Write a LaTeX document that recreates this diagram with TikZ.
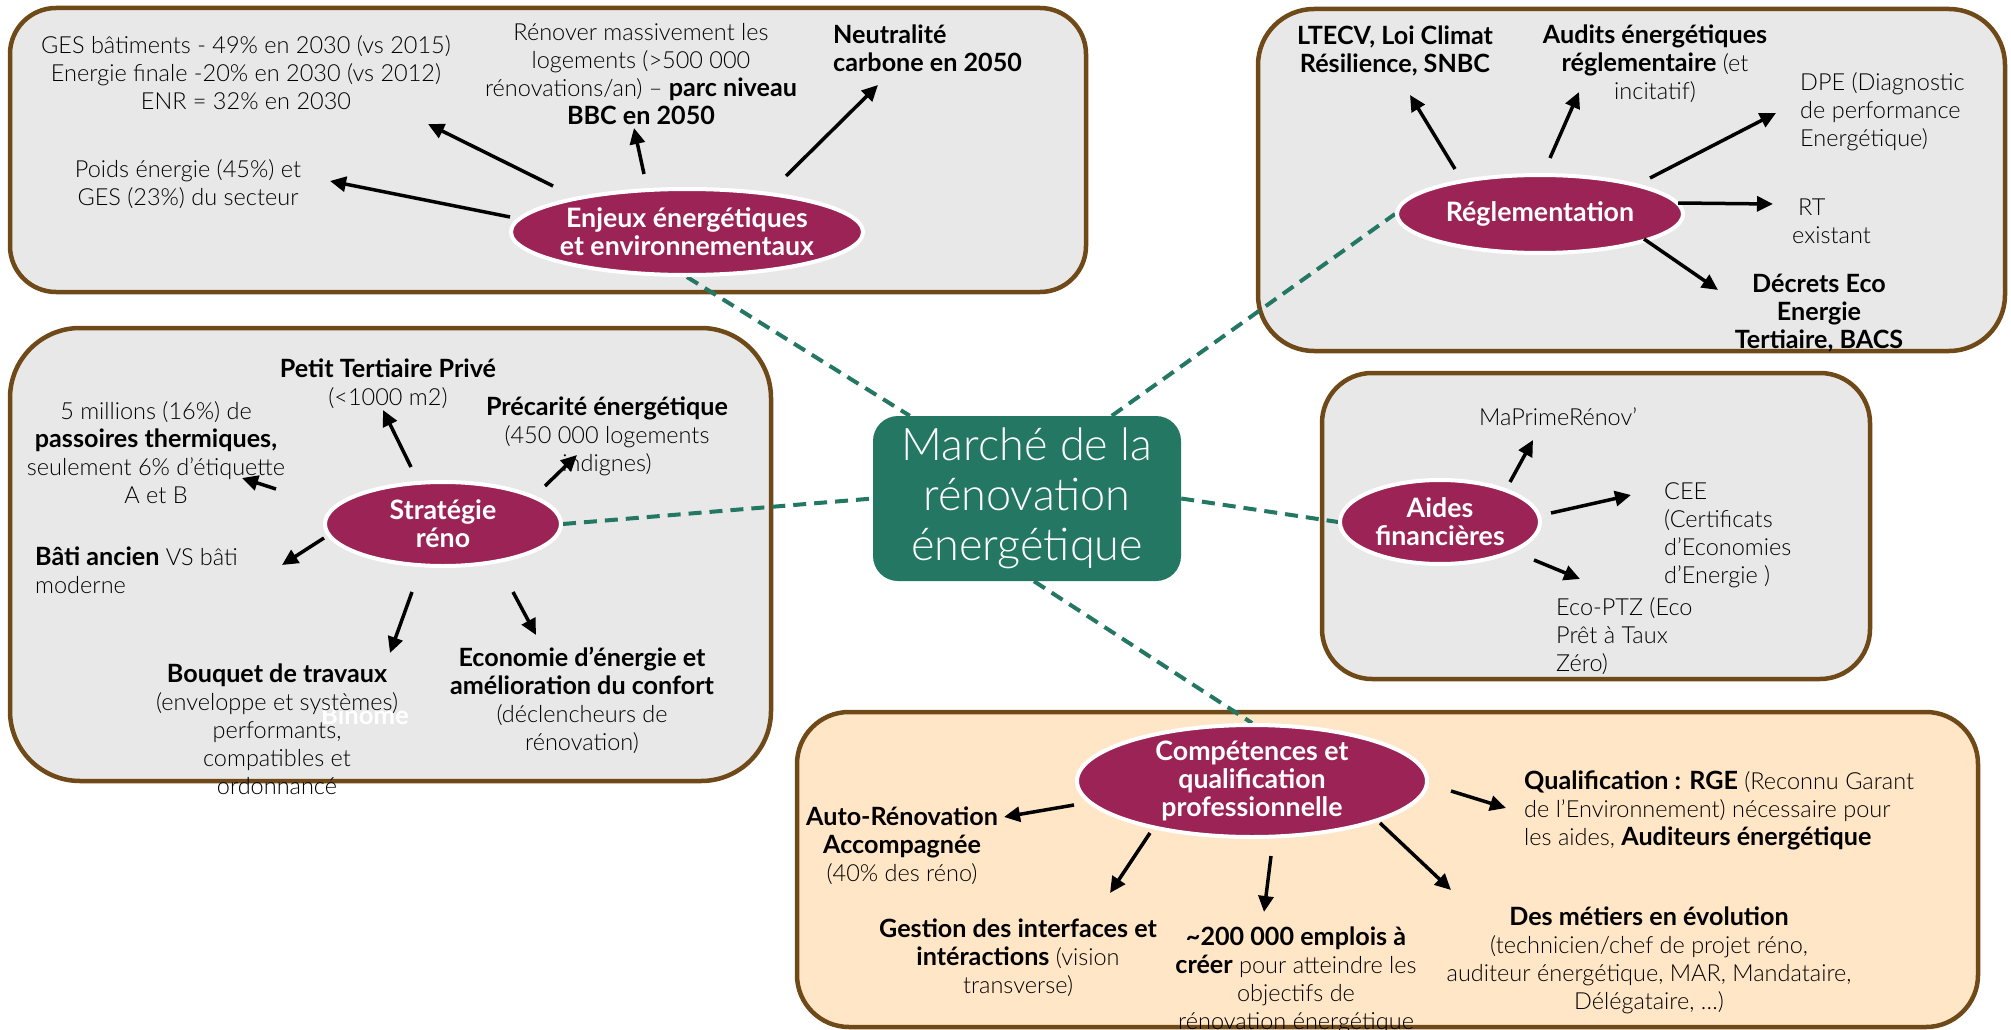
\documentclass[tikz,border=0pt]{standalone}
\usepackage{fontspec}
\setmainfont{Lato}[UprightFont=* Light, BoldFont=* Bold, BoldFeatures={Scale=1.07}]
\usetikzlibrary{arrows.meta,shapes.geometric}
\definecolor{myteal}{RGB}{35,119,99}
\definecolor{burg}{RGB}{155,35,85}
\definecolor{brownb}{RGB}{111,74,24}
\definecolor{greyf}{RGB}{232,232,232}
\definecolor{peach}{RGB}{255,230,199}
\newcommand\txtfont{\fontsize{23.5}{28}\selectfont}
\newcommand\ellfont{\fontsize{25}{28}\selectfont\bfseries}
\pgfdeclarelayer{bg}
\pgfdeclarelayer{mid}
\pgfsetlayers{bg,mid,main}
\tikzset{
  box/.style={draw=brownb, line width=4.5pt, fill=greyf},
  ell/.style={ellipse, fill=burg, draw=white, line width=4pt, inner sep=0pt},
  elltext/.style={text=white, font=\ellfont, align=center, inner sep=0pt},
  txt/.style={font=\txtfont, align=center, inner sep=0pt, text=black},
  ltxt/.style={txt, align=left, anchor=west},
  arrowline/.style={line width=3.5pt, -{Triangle[length=16pt,width=15pt]}},
  link/.style={draw=myteal, line width=4pt, dash pattern=on 13pt off 8pt},
  hubstyle/.style={rectangle, rounded corners=25pt, fill=myteal, text=white, minimum width=308pt, minimum height=165pt, inner sep=0pt, align=center, font=\fontsize{45}{50}\selectfont}
}
\begin{document}
\begin{tikzpicture}[x=1pt,y=-1pt]
\useasboundingbox (0,0) rectangle (2011,1030);
\begin{pgfonlayer}{bg}
\fill[white] (0,0) rectangle (2011,1030);
\draw[box, rounded corners=46pt] (10,8) rectangle (1086,292);
\draw[box, rounded corners=56pt] (1258,9) rectangle (2005,351);
\draw[box, rounded corners=70pt] (10,328) rectangle (771,781);
\draw[box, rounded corners=50pt] (1322,373) rectangle (1870,679);
\draw[box, fill=peach, rounded corners=52pt] (797,712) rectangle (1978,1027);
\end{pgfonlayer}

% hub and ellipses
\node[hubstyle] (hub) at (1027,498.5) {Marché de la\\rénovation\\énergétique};
\node[ell, minimum width=352pt, minimum height=86pt] (enj) at (687,232) {};
\node[elltext] (enjt) at (enj) {Enjeux énergétiques\\et environnementaux};
\node[ell, minimum width=286pt, minimum height=78pt] (reg) at (1540,214) {};
\node[elltext] (regt) at (reg) {Réglementation};
\node[ell, minimum width=236pt, minimum height=84pt] (strat) at (443,524) {};
\node[elltext] (stratt) at (strat) {Stratégie\\réno};
\node[ell, minimum width=200pt, minimum height=84pt] (aid) at (1440,522) {};
\node[elltext] (aidt) at (aid) {Aides\\financières};
\node[ell, minimum width=350pt, minimum height=112pt] (comp) at (1252,781) {};
\node[elltext] (compt) at (comp) {Compétences et\\qualification\\professionnelle};

\begin{pgfonlayer}{mid}
\draw[link] (enj.south) -- ([xshift=37pt]hub.north west);
\draw[link] ([xshift=239pt]hub.north west) -- (reg.west);
\draw[link] (strat.east) -- (hub.west);
\draw[link] (hub.east) -- (aid.west);
\draw[link] ([xshift=7pt]hub.south) -- (comp.north);
\end{pgfonlayer}

% hidden white label
\node[txt, text=white, font=\fontsize{24}{28}\selectfont\bfseries] (binome) at (365,715) {Binome};

% Box 1 texts
\node[txt] (t1) at (246,73) {GES bâtiments - 49\% en 2030 (vs 2015)\\Energie finale -20\% en 2030 (vs 2012)\\ENR = 32\% en 2030};
\node[txt] (t2) at (188,184) {Poids énergie (45\%) et\\GES (23\%) du secteur};
\node[txt] (t3) at (641,74) {Rénover massivement les\\logements (>500 000\\rénovations/an) – \textbf{parc niveau}\\\textbf{BBC en 2050}};
\node[ltxt] (t4) at (833,48) {\textbf{Neutralité}\\\textbf{carbone en 2050}};

% Box 2 texts
\node[txt] (t5) at (1395,51) {\textbf{LTECV, Loi Climat}\\\textbf{Résilience, SNBC}};
\node[txt] (t6) at (1655,64) {\textbf{Audits énergétiques}\\\textbf{réglementaire} (et\\incitatif)};
\node[ltxt] (t7) at (1800,112) {DPE (Diagnostic\\de performance\\Energétique)};
\node[ltxt] (t8) at (1792,221) {\hspace*{6pt}RT\\existant};
\node[txt] (t9) at (1819,313) {\textbf{Décrets Eco}\\\textbf{Energie}\\\textbf{Tertiaire, BACS}};

% Box 3 texts
\node[txt] (t10) at (388,384) {\textbf{Petit Tertiaire Privé}\\(<1000 m2)};
\node[txt] (t11) at (156,453) {5 millions (16\%) de\\\textbf{passoires thermiques,}\\seulement 6\% d'étiquette\\A et B};
\node[txt] (t12) at (607,436) {\textbf{Précarité énergétique}\\(450 000 logements\\indignes)};
\node[ltxt] (t13) at (35,570) {\textbf{Bâti ancien} VS bâti\\moderne};
\node[txt] (t14) at (277,729) {\textbf{Bouquet de travaux}\\(enveloppe et systèmes)\\performants,\\compatibles et\\ordonnancé};
\node[txt] (t15) at (582,700) {\textbf{Economie d'énergie et}\\\textbf{amélioration du confort}\\(déclencheurs de\\rénovation)};

% Box 4 texts
\node[ltxt] (t16) at (1479,417) {MaPrimeRénov'};
\node[ltxt] (t17) at (1664,535) {CEE\\(Certificats\\d'Economies\\d'Energie )};
\node[ltxt] (t18) at (1556,636) {Eco-PTZ (Eco\\Prêt à Taux\\Zéro)};

% Box 5 texts
\node[txt] (t19) at (902,846) {\textbf{Auto-Rénovation}\\\textbf{Accompagnée}\\(40\% des réno)};
\node[ltxt] (t20) at (1524,810) {\textbf{Qualification : RGE} (Reconnu Garant\\de l'Environnement) nécessaire pour\\les aides, \textbf{Auditeurs énergétique}};
\node[txt] (t21) at (1018,958) {\textbf{Gestion des interfaces et}\\\textbf{intéractions} (vision\\transverse)};
\node[txt] (t22) at (1296,980) {\textbf{\textasciitilde200 000 emplois à}\\\textbf{créer} pour atteindre les\\objectifs de\\rénovation énergétique};
\node[txt] (t23) at (1649,960) {\textbf{Des métiers en évolution}\\(technicien/chef de projet réno,\\auditeur énergétique, MAR, Mandataire,\\Délégataire, …)};

% arrows
\foreach \n/\sx/\sy/\ex/\ey in {
  1/510/217/330/181, 2/553/186/428/124, 3/644/174/634/128, 4/786/176/878/85,
  5/1455/169/1410/95, 6/1550/158/1579/92, 7/1650/178/1776/113, 8/1678/203/1773/204, 9/1644/239/1718/290,
  10/411/467/383/410, 11/276/489/242/478, 12/545/486/577/455, 13/324/538/282/565, 14/412/592/390/653, 15/513/592/536/635,
  16/1510/482/1533/440, 17/1551/513/1631/495, 18/1534/560/1580/579,
  19/1074/805/1004/817, 20/1451/791/1506/808, 21/1150/833/1110/893, 22/1271/856/1264/912, 23/1380/823/1451/890}{
  \coordinate (s\n) at (\sx,\sy);
  \coordinate (e\n) at (\ex,\ey);
  \draw[arrowline] (s\n) -- (e\n);
}
\end{tikzpicture}
\end{document}
